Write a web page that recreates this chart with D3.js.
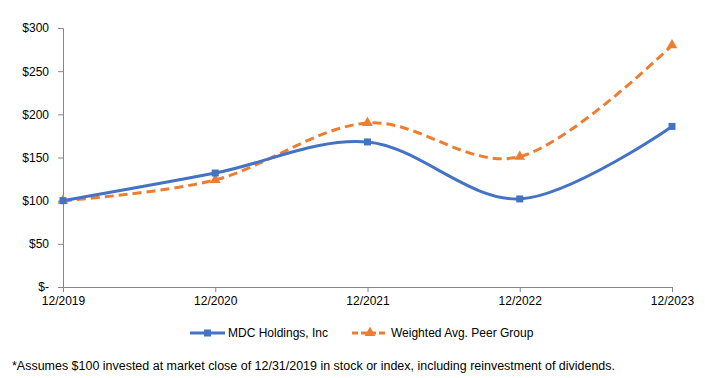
<!DOCTYPE html>
<html><head><meta charset="utf-8">
<script src="https://cdn.jsdelivr.net/npm/d3@7"></script>
<style>body{margin:0;background:#fff;}svg{display:block;font-family:"Liberation Sans",Arial,sans-serif;}</style>
</head><body>
<svg id="c" width="705" height="378"></svg>
<script>
const categories = ["12/2019","12/2020","12/2021","12/2022","12/2023"];
const mdcValues = [100, 132, 168, 102, 186];
const peerValues = [100, 124, 190, 151, 280];
const yTicks = [0, 50, 100, 150, 200, 250, 300];
const seriesNames = ["MDC Holdings, Inc", "Weighted Avg. Peer Group"];
const footnote = "*Assumes $100 invested at market close of 12/31/2019 in stock or index, including reinvestment of dividends.";

const svg = d3.select("#c");
const x = d3.scalePoint().domain(categories).range([63, 672]);
const y = d3.scaleLinear().domain([0, 300]).range([287, 28]);
const axisColor = "#868686";
const fs = 12;

// y axis
const ya = svg.append("g").attr("transform","translate(63,0)")
  .call(d3.axisLeft(y).tickValues(yTicks).tickSize(5).tickPadding(9)
    .tickFormat(d => d === 0 ? "$-" : "$" + d));
ya.select(".domain").attr("stroke", axisColor);
ya.selectAll(".tick line").attr("stroke", axisColor);
ya.selectAll("text").attr("font-size", fs).attr("fill","#000").attr("font-family","inherit");

// x axis
const xa = svg.append("g").attr("transform","translate(0,287)")
  .call(d3.axisBottom(x).tickSize(5).tickSizeOuter(0).tickPadding(4));
xa.select(".domain").attr("stroke", axisColor);
xa.selectAll(".tick line").attr("stroke", axisColor);
xa.selectAll("text").attr("font-size", fs).attr("fill","#000").attr("font-family","inherit");

const line = d3.line().x((d,i)=>x(categories[i])).y(d=>y(d)).curve(d3.curveCardinal.tension(0));

svg.append("path").datum(peerValues).attr("d", line).attr("fill","none")
  .attr("stroke","#ED7D31").attr("stroke-width",3).attr("stroke-dasharray","9,5");
svg.append("path").datum(mdcValues).attr("d", line).attr("fill","none")
  .attr("stroke","#4472C4").attr("stroke-width",3);

const tri = d3.symbol().type(d3.symbolTriangle).size(50);
svg.selectAll(".pm").data(peerValues).join("path")
  .attr("transform",(d,i)=>`translate(${x(categories[i])},${y(d)})`)
  .attr("d", tri).attr("fill","#ED7D31");
svg.selectAll(".mm").data(mdcValues).join("rect")
  .attr("x",(d,i)=>x(categories[i])-3.5).attr("y",d=>y(d)-3.5)
  .attr("width",7).attr("height",7).attr("fill","#4472C4");

// legend
const lg = svg.append("g");
lg.append("line").attr("x1",190).attr("x2",225).attr("y1",333).attr("y2",333)
  .attr("stroke","#4472C4").attr("stroke-width",3);
lg.append("rect").attr("x",204).attr("y",329.5).attr("width",7).attr("height",7).attr("fill","#4472C4");
lg.append("text").attr("x",228).attr("y",337).attr("font-size",fs).text(seriesNames[0]);
lg.append("line").attr("x1",352).attr("x2",388).attr("y1",333).attr("y2",333)
  .attr("stroke","#ED7D31").attr("stroke-width",3).attr("stroke-dasharray","6,3");
lg.append("path").attr("transform","translate(370,333)").attr("d",tri).attr("fill","#ED7D31");
lg.append("text").attr("x",391).attr("y",337).attr("font-size",fs).text(seriesNames[1]);

svg.append("text").attr("x",12).attr("y",370).attr("font-size",12).attr("textLength",603)
  .attr("lengthAdjust","spacingAndGlyphs").text(footnote);
</script>
</body></html>
